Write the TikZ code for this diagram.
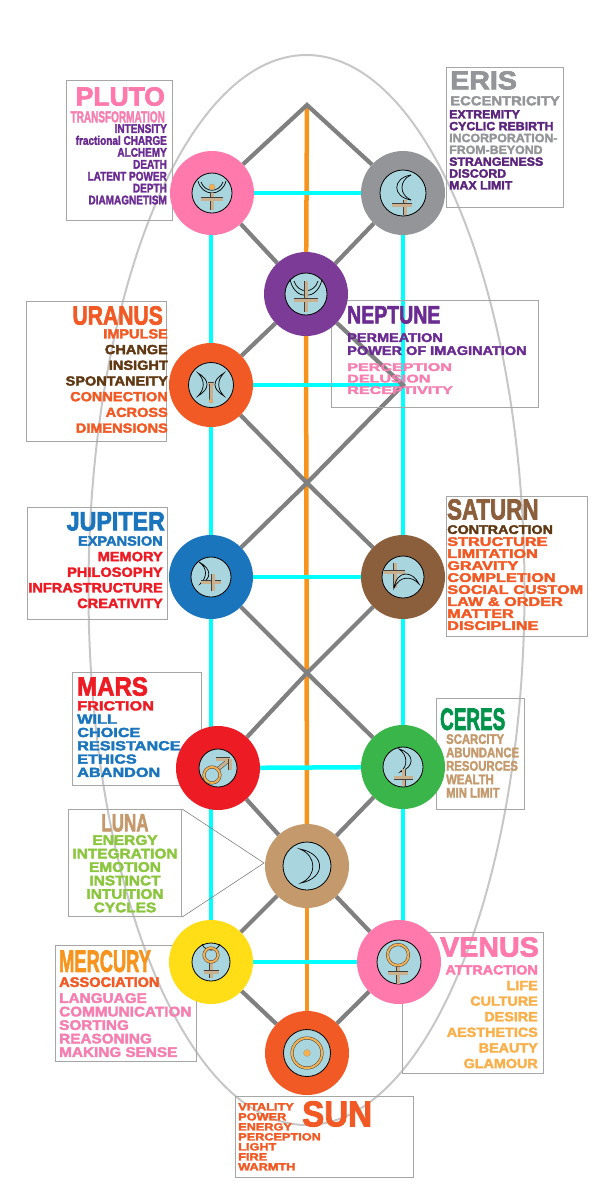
\documentclass[tikz,border=0pt]{standalone}
\usepackage{fontspec}
\setmainfont{Liberation Sans}[BoldFeatures={FakeBold=2.6}]
\usetikzlibrary{backgrounds}

\definecolor{pinkp}{HTML}{FF79AC}
\definecolor{pinkt}{HTML}{F47FB0}
\definecolor{greye}{HTML}{939598}
\definecolor{purplen}{HTML}{7B3B96}
\definecolor{purplet}{HTML}{6A2C91}
\definecolor{orangeu}{HTML}{F15A24}
\definecolor{orangea}{HTML}{F7941D}
\definecolor{gold}{HTML}{F9B04B}
\definecolor{brownl}{HTML}{8B5E3C}
\definecolor{brownd}{HTML}{603913}
\definecolor{bluej}{HTML}{1B75BC}
\definecolor{redm}{HTML}{ED1C24}
\definecolor{greenc}{HTML}{39B54A}
\definecolor{greent}{HTML}{00934A}
\definecolor{tan}{HTML}{C49A6C}
\definecolor{lime}{HTML}{8CC63F}
\definecolor{yellowm}{HTML}{FFDE17}
\definecolor{face}{HTML}{A8D5DE}
\definecolor{signtan}{HTML}{CBB08E}
\definecolor{aqua}{HTML}{00FFFF}

\tikzset{
  planet/.style={circle, fill=#1, minimum size=84pt, inner sep=0pt},
  panel/.style={rectangle, draw=black!35, line width=1.1pt, anchor=north west, inner sep=0pt},
  txt/.style n args={3}{font=\fontsize{#1}{#2}\selectfont\bfseries, xscale=#3, transform shape, inner sep=0pt, text depth=0pt},
  rim/.style={draw=black!22, line width=2pt},
  rung/.style={draw=aqua, line width=4.5pt},
  diag/.style={draw=black!50, line width=4.2pt},
  axis/.style={draw=orangea, line width=4.5pt},
  pointer/.style={draw=black!50, line width=.6pt},
  disc/.style={draw=black, line width=.8pt, fill=face},
  moon/.style={draw=black, line width=.7pt},
  bar/.style={draw=black!75, line width=.5pt, double=signtan, double distance=3pt},
  ring/.style={draw=black!75, line width=.5pt, double=gold, double distance=2pt},
  dot/.style={fill=gold, draw=black!40, line width=.3pt},
  plutosign/.pic={
    \draw[disc] (0,0) circle (20);
    \draw[moon] (-14,-12) .. controls (-10,4) and (10,4) .. (14,-12);
    \draw[moon] (-11,-11) .. controls (-7,0) and (7,0) .. (11,-11);
    \draw[dot] (0,-6) circle (3);
    \draw[bar] (0,0) -- (0,17);
    \draw[bar] (-11,6) -- (11,6);
  },
  neptunesign/.pic={
    \draw[disc] (0,0) circle (21);
    \draw[moon] (-16,-15) .. controls (-12,7) and (12,7) .. (16,-15);
    \draw[moon] (-12,-13) .. controls (-8,0) and (8,0) .. (12,-13);
    \draw[bar] (0,-13) -- (0,18);
    \draw[bar] (-12,6) -- (12,6);
  },
  erissign/.pic={
    \draw[disc] (0,0) circle (23);
    \draw[moon] (8,-18) .. controls (-11,-15) and (-11,4) .. (8,7);
    \draw[moon] (8,-18) .. controls (-4,-13) and (-4,2) .. (8,7);
    \draw[bar] (2,7) -- (2,22);
    \draw[bar] (-11,12) -- (9,12);
  },
  uranussign/.pic={
    \draw[disc] (0,0) circle (22.5);
    \draw[moon] (-13,-12) .. controls (-1,-5) and (-1,4) .. (-13,11) .. controls (-6,4) and (-6,-5) .. cycle;
    \draw[moon] (13,-12) .. controls (1,-5) and (1,4) .. (13,11) .. controls (6,4) and (6,-5) .. cycle;
    \draw[bar] (-3,-1) -- (3,-1);
    \draw[bar] (0,-1) -- (0,15);
    \draw[dot] (0,16) circle (2);
  },
  jupitersign/.pic={
    \draw[disc] (0,0) circle (20);
    \draw[moon] (-12,-15) .. controls (1,-8) and (1,2) .. (-11,7) .. controls (-4,1) and (-3,-9) .. cycle;
    \draw[bar] (-10,5) -- (10,5);
    \draw[bar] (2,-3) -- (2,14);
  },
  saturnsign/.pic={
    \draw[disc] (0,0) circle (21);
    \draw[bar] (-8,-14) -- (-8,11);
    \draw[bar] (-19,-5) -- (2,-5);
    \draw[moon] (-9,11) .. controls (-6,-8) and (10,-6) .. (16,7) .. controls (9,-1) and (-3,-2) .. cycle;
  },
  marssign/.pic={
    \draw[disc] (0,0) circle (19);
    \draw[bar] (0,1) -- (11,-8);
    \draw[bar] (-2,-9) -- (12,-9);
    \draw[bar] (12,-9) -- (12,2);
    \draw[ring] (-6,7) circle (8);
  },
  ceressign/.pic={
    \draw[disc] (0,0) circle (20);
    \draw[moon] (-4,-18) .. controls (12,-13) and (12,0) .. (-3,5) .. controls (5,0) and (5,-12) .. cycle;
    \draw[bar] (0.5,2) -- (0.5,19);
    \draw[bar] (-9,10.5) -- (10,10.5);
  },
  lunasign/.pic={
    \draw[disc] (0,0) circle (24);
    \draw[moon] (-7,-17) .. controls (19,-12) and (19,12) .. (-6,17) .. controls (10,10) and (10,-10) .. cycle;
  },
  mercurysign/.pic={
    \draw[disc] (0,0) circle (19);
    \draw[moon] (-9,-18) .. controls (-6,-10) and (6,-10) .. (9,-18);
    \draw[bar] (0,1) -- (0,16);
    \draw[bar] (-7.5,10) -- (7.5,10);
    \draw[ring] (0,-7) circle (7);
  },
  venussign/.pic={
    \draw[disc] (0,0) circle (22);
    \draw[bar] (-1,4) -- (-1,22);
    \draw[bar] (-11,11) -- (9,11);
    \draw[ring] (-1,-7) circle (10.5);
  },
  sunsign/.pic={
    \draw[disc] (0,0) circle (23.5);
    \draw[ring] (0,0) circle (15);
    \draw[dot] (0,0) circle (3.5);
  }
}

\begin{document}
\begin{tikzpicture}[x=1pt, y=-1pt]
  \useasboundingbox (0,0) rectangle (600,1200);

  \node[planet=pinkp] (pluto) at (212,193) {};
  \node[planet=greye] (eris) at (403,193) {};
  \node[planet=purplen] (neptune) at (306,294) {};
  \node[planet=orangeu] (uranus) at (211,385) {};
  \node[planet=bluej] (jupiter) at (211,577) {};
  \node[planet=brownl] (saturn) at (403,577) {};
  \node[planet=redm] (mars) at (218,768) {};
  \node[planet=greenc] (ceres) at (403,767) {};
  \node[planet=tan] (luna) at (307,866) {};
  \node[planet=yellowm] (mercury) at (211,962) {};
  \node[planet=pinkp] (venus) at (399,962) {};
  \node[planet=orangeu] (sun) at (307,1053) {};

  \coordinate (apex) at (307,105);
  \coordinate (crossright) at (403,385);
  \coordinate (crossup) at (307,483);
  \coordinate (crossdown) at (307,673);
  \coordinate (lunatip) at (264,863);

  \begin{scope}[on background layer]
    \draw[rim] (306.5,590) ellipse [x radius=218, y radius=535];
    \draw[axis] (apex) -- (neptune);
    \draw[axis] (neptune) -- (luna);
    \draw[axis] (luna) -- (sun);
    % the ladder
    \draw[rung] (pluto) -- (eris);
    \draw[rung] (uranus) -- (crossright);
    \draw[rung] (jupiter) -- (saturn);
    \draw[rung] (mars) -- (ceres);
    \draw[rung] (mercury) -- (venus);
    \draw[rung] (uranus |- pluto) -- (uranus);
    \draw[rung] (uranus) -- (jupiter);
    \draw[rung] (jupiter) -- (jupiter |- mars);
    \draw[rung] (mercury) -- (mercury |- mars);
    \draw[rung] (eris) -- (saturn);
    \draw[rung] (saturn) -- (ceres);
    \draw[rung] (ceres) -- (ceres |- venus);
    % the lattice
    \draw[diag] (pluto) -- (apex) -- (eris);
    \draw[diag] (pluto) -- (neptune);
    \draw[diag] (eris) -- (neptune);
    \draw[diag] (neptune) -- (uranus);
    \draw[diag] (neptune) -- (crossright) -- (crossup) -- (jupiter);
    \draw[diag] (uranus) -- (crossup) -- (saturn);
    \draw[diag] (jupiter) -- (crossdown) -- (ceres);
    \draw[diag] (saturn) -- (crossdown) -- (mars);
    \draw[diag] (mars) -- (luna);
    \draw[diag] (ceres) -- (luna);
    \draw[diag] (luna) -- (mercury);
    \draw[diag] (luna) -- (venus);
    \draw[diag] (mercury) -- (sun);
    \draw[diag] (venus) -- (sun);
    % the text frames
    \node[panel, minimum width=106pt, minimum height=140pt] (plutobox) at (66,80) {};
    \node[panel, minimum width=117pt, minimum height=140pt] (erisbox) at (446,67) {};
    \node[panel, minimum width=140pt, minimum height=140pt] (uranusbox) at (26,301) {};
    \node[panel, minimum width=207pt, minimum height=107pt] (neptunebox) at (331,300) {};
    \node[panel, minimum width=140pt, minimum height=112pt] (jupiterbox) at (27,507) {};
    \node[panel, minimum width=141pt, minimum height=140pt] (saturnbox) at (446,496) {};
    \node[panel, minimum width=129pt, minimum height=113pt] (marsbox) at (72,672) {};
    \node[panel, minimum width=88pt, minimum height=111pt] (ceresbox) at (436,698) {};
    \node[panel, minimum width=113pt, minimum height=107pt] (lunabox) at (68,809) {};
    \node[panel, minimum width=141pt, minimum height=116pt] (mercurybox) at (55,945) {};
    \node[panel, minimum width=141pt, minimum height=141pt] (venusbox) at (402,932) {};
    \node[panel, minimum width=178pt, minimum height=81pt] (sunbox) at (235,1096) {};
    \draw[pointer] (lunabox.north east) -- (lunatip) -- (lunabox.south east);
  \end{scope}

  \pic at (pluto) {plutosign};
  \pic at (eris) {erissign};
  \pic at (neptune) {neptunesign};
  \pic at (uranus) {uranussign};
  \pic at (jupiter) {jupitersign};
  \pic at (saturn) {saturnsign};
  \pic at (mars) {marssign};
  \pic at (ceres) {ceressign};
  \pic at (luna) {lunasign};
  \pic at (mercury) {mercurysign};
  \pic at (venus) {venussign};
  \pic at (sun) {sunsign};

  % pluto
  \node[txt={26.4}{28}{1.0}, text=pinkp, anchor=north east] (plutotitle) at (165,87) {PLUTO};
  \node[txt={16}{18}{.625}, text=pinkt, anchor=north east] (plutohead) at (165,111) {TRANSFORMATION};
  \node[txt={12.5}{11.9}{.8}, text=purplet, anchor=north east, align=right] (plutolist) at (167,124)
    {INTENSITY\\fractional CHARGE\\ALCHEMY\\DEATH\\LATENT POWER\\DEPTH\\DIAMAGNETISM};
  % eris
  \node[txt={26}{28}{1.1}, text=greye, anchor=north west] (eristitle) at (450,71) {ERIS};
  \node[txt={13}{14}{1.14}, text=greye, anchor=north west] (erishead) at (450,96) {ECCENTRICITY};
  \node[txt={12}{11.83}{1.03}, text=purplet!85!black, anchor=north west, align=left] (erislist) at (449,110)
    {EXTREMITY\\CYCLIC REBIRTH\\\textcolor{greye}{INCORPORATION-}\\\textcolor{greye}{FROM-BEYOND}\\STRANGENESS\\DISCORD\\MAX LIMIT};
  % uranus
  \node[txt={26.4}{28}{.8}, text=orangeu, anchor=north east] (uranustitle) at (163,306) {URANUS};
  \node[txt={13.2}{15.7}{1.1}, text=brownd, anchor=north east, align=right] (uranuslist) at (168,329)
    {\textcolor{orangeu}{IMPULSE}\\CHANGE\\INSIGHT\\SPONTANEITY\\\textcolor{orangeu}{CONNECTION}\\\textcolor{orangeu}{ACROSS}\\\textcolor{orangeu}{DIMENSIONS}};
  % neptune
  \node[txt={25}{28}{.78}, text=purplet, anchor=north west] (neptunetitle) at (347,306) {NEPTUNE};
  \node[txt={12.5}{13}{1.16}, text=purplet, anchor=north west, align=left] (neptunehead) at (347,333)
    {PERMEATION\\POWER OF IMAGINATION};
  \node[txt={11.1}{11.5}{1.45}, text=pinkt, anchor=north west, align=left] (neptunelist) at (347,363)
    {PERCEPTION\\DELUSION\\RECEPTIVITY};
  % jupiter
  \node[txt={26.4}{28}{.88}, text=bluej, anchor=north east] (jupitertitle) at (165,512) {JUPITER};
  \node[txt={13.5}{15.6}{1.08}, text=redm, anchor=north east, align=right] (jupiterlist) at (163,536)
    {\textcolor{bluej}{EXPANSION}\\MEMORY\\PHILOSOPHY\\INFRASTRUCTURE\\CREATIVITY};
  % saturn
  \node[txt={29}{30}{.77}, text=brownl, anchor=north west] (saturntitle) at (447,499) {SATURN};
  \node[txt={12.5}{12}{1.3}, text=orangeu, anchor=north west, align=left] (saturnlist) at (447,525)
    {\textcolor{brownd}{\scalebox{.88}[1]{CONTRACTION}}\\STRUCTURE\\LIMITATION\\GRAVITY\\COMPLETION\\SOCIAL CUSTOM\\LAW \& ORDER\\MATTER\\DISCIPLINE};
  % mars
  \node[txt={26.4}{28}{.91}, text=redm, anchor=north west] (marstitle) at (77,677) {MARS};
  \node[txt={13.2}{13.3}{1.23}, text=bluej, anchor=north west, align=left] (marslist) at (77,701)
    {\textcolor{redm}{FRICTION}\\WILL\\CHOICE\\RESISTANCE\\ETHICS\\ABANDON};
  % ceres
  \node[txt={31}{33}{.61}, text=greent, anchor=north west] (cerestitle) at (440,708) {CERES};
  \node[txt={13.9}{13.4}{.815}, text=tan, anchor=north west, align=left] (cereslist) at (446,734)
    {SCARCITY\\ABUNDANCE\\RESOURCES\\WEALTH\\MIN LIMIT};
  % luna
  \node[txt={25}{27}{.68}, text=tan, anchor=north] (lunatitle) at (125,814) {LUNA};
  \node[txt={13.9}{13.47}{1.11}, text=lime, anchor=north, align=center] (lunalist) at (125,835)
    {ENERGY\\INTEGRATION\\EMOTION\\INSTINCT\\INTUITION\\CYCLES};
  % mercury
  \node[txt={31}{33}{.59}, text=orangea, anchor=north west] (mercurytitle) at (59,950) {MERCURY};
  \node[txt={13.9}{15}{1.05}, text=orangeu, anchor=north west] (mercuryhead) at (59,977) {ASSOCIATION};
  \node[txt={13.9}{13.5}{1.1}, text=pinkt, anchor=north west, align=left] (mercurylist) at (59,993)
    {LANGUAGE\\COMMUNICATION\\SORTING\\REASONING\\MAKING SENSE};
  % venus
  \node[txt={27.8}{30}{1.03}, text=pinkp, anchor=north east] (venustitle) at (539,937) {VENUS};
  \node[txt={13.3}{15.6}{1.08}, text=gold, anchor=north east, align=right] (venuslist) at (538,965)
    {\textcolor{pinkp}{ATTRACTION}\\LIFE\\CULTURE\\DESIRE\\AESTHETICS\\BEAUTY\\GLAMOUR};
  % sun
  \node[txt={36}{38}{.92}, text=orangeu, anchor=north west] (suntitle) at (302,1101) {SUN};
  \node[txt={10.5}{10}{1.21}, text=orangeu, anchor=north west, align=left] (sunlist) at (238,1103)
    {VITALITY\\POWER\\ENERGY\\PERCEPTION\\LIGHT\\FIRE\\WARMTH};
\end{tikzpicture}
\end{document}
